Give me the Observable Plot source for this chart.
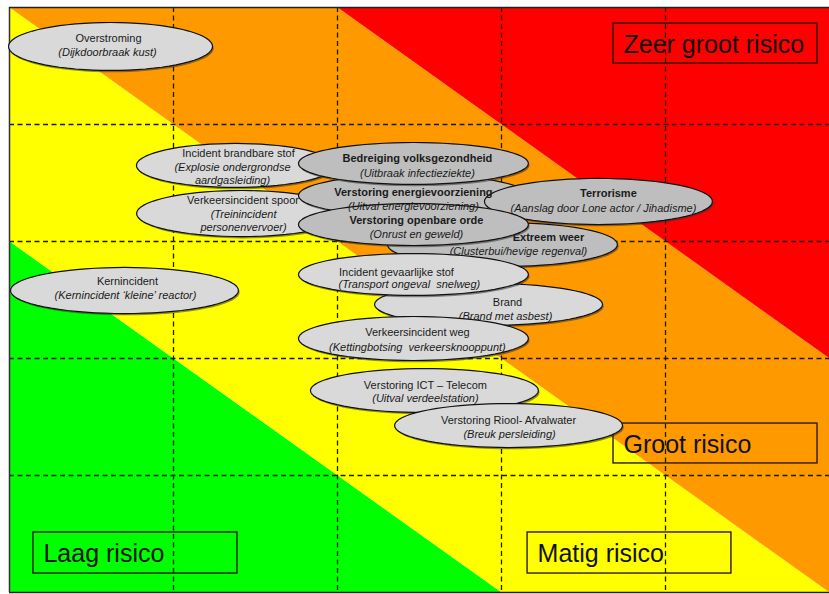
<!DOCTYPE html>
<html>
<head>
<meta charset="utf-8">
<script src="https://cdn.jsdelivr.net/npm/d3@7"></script>
<script src="https://cdn.jsdelivr.net/npm/@observablehq/plot@0.6"></script>
<style>
  html, body { margin: 0; padding: 0; background: #fff; }
  #chart svg { display: block; }
</style>
</head>
<body>
<div id="chart"></div>
<script>
// ---------- DATA ----------
// Scenarios (in drawing order), with their position on the 5x5 risk matrix
const scenarios = [
  "Overstroming",
  "Kernincident",
  "Incident brandbare stof",
  "Verkeersincident spoor",
  "Extreem weer",
  "Brand",
  "Verstoring energievoorziening",
  "Terrorisme",
  "Bedreiging volksgezondheid",
  "Verstoring openbare orde",
  "Incident gevaarlijke stof",
  "Verkeersincident weg",
  "Verstoring ICT \u2013 Telecom",
  "Verstoring Riool- Afvalwater"
];
const scenarioDetails = [
  "(Dijkdoorbraak kust)",
  "(Kernincident \u2018kleine\u2019 reactor)",
  "(Explosie ondergrondse\naardgasleiding)",
  "(Treinincident\npersonenvervoer)",
  "(Clusterbui/hevige regenval)",
  "(Brand met asbest)",
  "(Uitval energievoorziening)",
  "(Aanslag door Lone actor / Jihadisme)",
  "(Uitbraak infectieziekte)",
  "(Onrust en geweld)",
  "(Transport ongeval  snelweg)",
  "(Kettingbotsing  verkeersknooppunt)",
  "(Uitval verdeelstation)",
  "(Breuk persleiding)"
];
// horizontal position (0-5) and vertical position (0-5) of each scenario
const impact =     [0.616, 0.701, 1.378, 1.415, 3.006, 2.921, 2.463, 3.591, 2.463, 2.463, 2.463, 2.463, 2.530, 3.043];
const likelihood = [4.667, 2.581, 3.650, 3.239, 2.974, 2.462, 3.393, 3.342, 3.667, 3.145, 2.718, 2.171, 1.726, 1.427];
// highlighted (top) scenarios
const highlighted = [false, false, false, false, true, false, true, true, true, true, false, false, false, false];

// Risk bands: score = x + y
const riskLevels = ["Laag risico", "Matig risico", "Groot risico", "Zeer groot risico"];
const riskThresholds = [3, 5, 7];
const gridTicks = [1, 2, 3, 4];

// ---------- LAYOUT / STYLE ----------
const bandColors = ["#00ff00", "#ffff00", "#ff9900", "#ff0000"];
// ellipse half-extents (matrix units)
const spreadX = [0.622, 0.695, 0.604, 0.640, 0.701, 0.695, 0.701, 0.695, 0.701, 0.701, 0.701, 0.701, 0.695, 0.695];
const spreadY = [0.205, 0.197, 0.188, 0.197, 0.188, 0.179, 0.179, 0.197, 0.179, 0.179, 0.179, 0.188, 0.188, 0.188];
// label offsets in px: [title dx, title dy, detail dx, detail dy]
const labelOffsets = [
  [-2, -8, -3, 5], [3, -9, 1, 4], [3, -12, -3, 7.5], [1.5, -13, 2, 7],
  [46, -7, 16, 6], [19, -2, 17, 11], [0, -3, 0, 10], [10, -8, 5, 6],
  [4, -5, 4, 9], [3, -4, 3, 9], [-17, -2, -4, 9], [4, -6, 4, 8],
  [1, -5, 1, 7], [0, -5, 1, 8]
];
// after which ellipse each label is written (default: its own)
const labelAfter = [0, 1, 2, 3, 4, 5, 9, 7, 8, 9, 10, 11, 12, 13];
// risk label boxes (matrix units), in riskLevels order
const boxX1 = [0.146, 3.159, 3.683, 3.683];
const boxX2 = [1.390, 4.402, 4.927, 4.927];
const boxY1 = [0.162, 0.162, 1.103, 4.521];
const boxY2 = [0.513, 0.513, 1.444, 4.863];

const font = "'Liberation Sans', Arial, Helvetica, sans-serif";
const marks = [];

// colored diagonal bands
riskLevels.forEach((lvl, i) => {
  marks.push(Plot.area([0, 5], {
    x1: d => d,
    y1: d => i === 0 ? -1 : riskThresholds[i - 1] - d,
    y2: d => i === riskLevels.length - 1 ? 12 : riskThresholds[i] - d,
    fill: bandColors[i],
    clip: true
  }));
});

// risk label boxes
const boxes = riskLevels.map((name, i) => ({name, x1: boxX1[i], x2: boxX2[i], y1: boxY1[i], y2: boxY2[i]}));
marks.push(Plot.rect(boxes, {x1: "x1", x2: "x2", y1: "y1", y2: "y2", fill: "none", stroke: "#2a1a0a", strokeWidth: 1.4}));
marks.push(Plot.text(boxes, {x: "x1", y: d => (d.y1 + d.y2) / 2, text: "name", textAnchor: "start", dx: 10, dy: 1, fontSize: 25, fill: "#111", fontFamily: font}));

// dashed grid
marks.push(Plot.ruleX(gridTicks, {stroke: "#1a1a1a", strokeWidth: 1.3, strokeDasharray: "5,3.5"}));
marks.push(Plot.ruleY(gridTicks, {stroke: "#1a1a1a", strokeWidth: 1.3, strokeDasharray: "5,3.5"}));

// frame borders (left, top, bottom)
marks.push(Plot.ruleX([0], {stroke: "#333", strokeWidth: 1.5}));
marks.push(Plot.ruleY([0, 5], {stroke: "#222", strokeWidth: 1.5}));

function labelMarks(i) {
  const o = labelOffsets[i];
  return [
    Plot.text([i], {
      x: j => impact[j], y: j => likelihood[j], text: j => scenarios[j],
      dx: o[0], dy: o[1], fontSize: 11, fontWeight: highlighted[i] ? "bold" : "normal",
      fill: "#1a1a1a", fontFamily: font
    }),
    Plot.text([i], {
      x: j => impact[j], y: j => likelihood[j], text: j => scenarioDetails[j],
      dx: o[2], dy: o[3], fontSize: 11, fontStyle: "italic", lineHeight: 1.2,
      fill: "#1a1a1a", fontFamily: font
    })
  ];
}

// ellipses with labels, one at a time so that the overlap order is kept
scenarios.forEach((name, i) => {
  const pts = d3.range(73).map(k => {
    const t = 2 * Math.PI * k / 72;
    return {x: impact[i] + spreadX[i] * Math.cos(t), y: likelihood[i] + spreadY[i] * Math.sin(t)};
  });
  marks.push(Plot.line(pts, {x: "x", y: "y", fill: "#333", fillOpacity: 0.55, stroke: "none", dx: 1.2, dy: 1.8}));
  marks.push(Plot.line(pts, {x: "x", y: "y", fill: highlighted[i] ? "#bebebe" : "#d9d9d9", stroke: "#111", strokeWidth: 1.2}));
  scenarios.forEach((_, j) => { if (labelAfter[j] === i) marks.push(...labelMarks(j)); });
});

const chart = Plot.plot({
  width: 829,
  height: 594,
  marginLeft: 9,
  marginRight: 0,
  marginTop: 7,
  marginBottom: 2,
  x: {domain: [0, 5], axis: null},
  y: {domain: [0, 5], axis: null},
  style: {fontFamily: font, background: "#fff"},
  marks
});
document.getElementById("chart").appendChild(chart);
</script>
</body>
</html>
